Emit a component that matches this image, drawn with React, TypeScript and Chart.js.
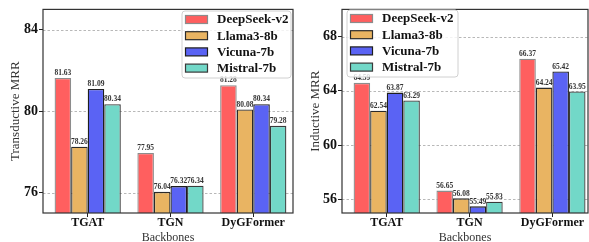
import React, { useEffect, useRef } from "react";
import { Chart, registerables } from "chart.js";
Chart.register(...registerables);

const backbones = ["TGAT", "TGN", "DyGFormer"];
const models = ["DeepSeek-v2", "Llama3-8b", "Vicuna-7b", "Mistral-7b"];

const transDeepSeek = [81.63, 77.95, 81.28];
const transLlama = [78.26, 76.04, 80.08];
const transVicuna = [81.09, 76.32, 80.34];
const transMistral = [80.34, 76.34, 79.28];

const indDeepSeek = [64.59, 56.65, 66.37];
const indLlama = [62.54, 56.08, 64.24];
const indVicuna = [63.87, 55.49, 65.42];
const indMistral = [63.29, 55.83, 63.95];

const transTicks = [76, 80, 84];
const indTicks = [56, 60, 64, 68];

const colors = ["#FF5F5F", "#E9B462", "#5A63F4", "#72D8C8"];
const edges = ["#8c8c8c", "#2a2a2a", "#1e1e1e", "#3a3a3a"];

const SERIF = "'Liberation Serif', 'DejaVu Serif', serif";

type PanelProps = {
  W: number;
  H: number;
  offsetX: number;
  plotLeft: number;
  plotRight: number;
  xMin: number;
  xMax: number;
  yMin: number;
  yMax: number;
  ticks: number[];
  series: number[][];
  yTitle: string;
  yTitlePad: number;
  legendBox: { x: number; y: number; w: number; h: number };
};

function Panel(p: PanelProps) {
  const ref = useRef<HTMLCanvasElement | null>(null);
  useEffect(() => {
    const canvas = ref.current;
    if (!canvas) return;
    const datasets = p.series.map((vals, i) => ({
      label: models[i],
      data: vals.map((v, j) => ({ x: j, y: v })),
      backgroundColor: colors[i],
      borderColor: edges[i],
      borderWidth: 1.3,
      borderSkipped: false as const,
      barPercentage: 1,
      categoryPercentage: 0.8,
    }));

    const overlay = {
      id: "overlay",
      beforeDatasetsDraw(chart: any) {
        const ctx = chart.ctx;
        const a = chart.chartArea;
        const ys = chart.scales.y;
        ctx.save();
        ctx.strokeStyle = "#b8b8b8";
        ctx.lineWidth = 1;
        ctx.setLineDash([2.5, 2]);
        p.ticks.forEach((t) => {
          const y = Math.round(ys.getPixelForValue(t)) + 0.5;
          ctx.beginPath();
          ctx.moveTo(a.left, y);
          ctx.lineTo(a.right, y);
          ctx.stroke();
        });
        ctx.restore();
      },
      afterDatasetsDraw(chart: any) {
        const ctx = chart.ctx;
        const a = chart.chartArea;
        ctx.save();
        // value labels
        ctx.font = `bold 7.5px ${SERIF}`;
        ctx.fillStyle = "#333";
        ctx.textAlign = "center";
        ctx.textBaseline = "bottom";
        chart.data.datasets.forEach((ds: any, di: number) => {
          const meta = chart.getDatasetMeta(di);
          meta.data.forEach((bar: any, k: number) => {
            const v = ds.data[k].y;
            ctx.fillText(v.toFixed(2), bar.x, bar.y - 1);
          });
        });
        // frame
        ctx.strokeStyle = "#333";
        ctx.lineWidth = 1.2;
        ctx.strokeRect(a.left, a.top, a.right - a.left, a.bottom - a.top);
        // legend
        const b = p.legendBox;
        const r = 3;
        ctx.beginPath();
        ctx.moveTo(b.x + r, b.y);
        ctx.lineTo(b.x + b.w - r, b.y);
        ctx.quadraticCurveTo(b.x + b.w, b.y, b.x + b.w, b.y + r);
        ctx.lineTo(b.x + b.w, b.y + b.h - r);
        ctx.quadraticCurveTo(b.x + b.w, b.y + b.h, b.x + b.w - r, b.y + b.h);
        ctx.lineTo(b.x + r, b.y + b.h);
        ctx.quadraticCurveTo(b.x, b.y + b.h, b.x, b.y + b.h - r);
        ctx.lineTo(b.x, b.y + r);
        ctx.quadraticCurveTo(b.x, b.y, b.x + r, b.y);
        ctx.closePath();
        ctx.fillStyle = "rgba(255,255,255,0.82)";
        ctx.fill();
        ctx.strokeStyle = "#d0d0d0";
        ctx.lineWidth = 1;
        ctx.stroke();
        ctx.font = `bold 13px ${SERIF}`;
        ctx.textAlign = "left";
        ctx.textBaseline = "middle";
        models.forEach((m, i) => {
          const cy = b.y + 8.5 + i * 16.2;
          ctx.fillStyle = colors[i];
          ctx.fillRect(b.x + 3.5, cy - 4, 22, 8);
          ctx.strokeStyle = edges[i];
          ctx.lineWidth = 1.2;
          ctx.strokeRect(b.x + 3.5, cy - 4, 22, 8);
          ctx.fillStyle = "#111";
          ctx.fillText(m, b.x + 35, cy + 0.5);
        });
        ctx.restore();
      },
    };

    const chart = new Chart(canvas, {
      type: "bar",
      data: { datasets },
      options: {
        responsive: false,
        animation: false,
        layout: { padding: { left: 0, right: p.W - p.plotRight, top: 5, bottom: 0 } },
        plugins: { legend: { display: false }, tooltip: { enabled: false } },
        scales: {
          x: {
            type: "linear",
            min: p.xMin,
            max: p.xMax,
            offset: false,
            afterFit: (s: any) => {
              s.height = p.H - 213;
            },
            afterBuildTicks: (s: any) => {
              s.ticks = backbones.map((_, i) => ({ value: i }));
            },
            ticks: {
              callback: (v: any) => backbones[Math.round(Number(v))] ?? "",
              font: { family: SERIF, weight: "bold", size: 12 },
              color: "#111",
              padding: -1,
              maxRotation: 0,
              autoSkip: false,
            },
            grid: {
              offset: false,
              drawOnChartArea: false,
              drawTicks: true,
              tickLength: 4,
              tickColor: "#222",
              tickWidth: 1,
            },
            border: { display: false },
            title: {
              display: true,
              text: "Backbones",
              font: { family: SERIF, size: 12 },
              color: "#333",
              padding: { top: 0, bottom: -3 },
            },
          },
          y: {
            min: p.yMin,
            max: p.yMax,
            afterFit: (s: any) => {
              s.width = p.plotLeft;
            },
            afterBuildTicks: (s: any) => {
              s.ticks = p.ticks.map((v) => ({ value: v }));
            },
            ticks: {
              font: { family: SERIF, weight: "bold", size: 14 },
              color: "#111",
              padding: 1,
            },
            grid: {
              drawOnChartArea: false,
              drawTicks: true,
              tickLength: 4,
              tickColor: "#222",
            },
            border: { display: false },
            title: {
              display: true,
              text: p.yTitle,
              font: { family: SERIF, size: 13 },
              color: "#333",
              padding: { top: p.yTitlePad, bottom: 0 },
            },
          },
        },
      } as any,
      plugins: [overlay as any],
    });
    return () => chart.destroy();
  }, []);
  return (
    <canvas
      ref={ref}
      width={p.W}
      height={p.H}
      style={{ position: "absolute", left: p.offsetX, top: 0, width: p.W, height: p.H }}
    />
  );
}

export default function App() {
  return (
    <div style={{ position: "absolute", left: 0, top: 0, width: 589, height: 242, background: "#fff", overflow: "hidden" }}>
      <Panel
        W={298}
        H={242}
        offsetX={0}
        plotLeft={43}
        plotRight={293}
        xMin={-0.54}
        xMax={2.48}
        yMin={75}
        yMax={85}
        ticks={transTicks}
        series={[transDeepSeek, transLlama, transVicuna, transMistral]}
        yTitle="Transductive MRR"
        yTitlePad={8}
        legendBox={{ x: 182, y: 11, w: 109, h: 67 }}
      />
      <Panel
        W={291}
        H={242}
        offsetX={298}
        plotLeft={44}
        plotRight={290}
        xMin={-0.54}
        xMax={2.43}
        yMin={55}
        yMax={70}
        ticks={indTicks}
        series={[indDeepSeek, indLlama, indVicuna, indMistral]}
        yTitle="Inductive MRR"
        yTitlePad={10}
        legendBox={{ x: 49, y: 10, w: 111, h: 67 }}
      />
    </div>
  );
}
